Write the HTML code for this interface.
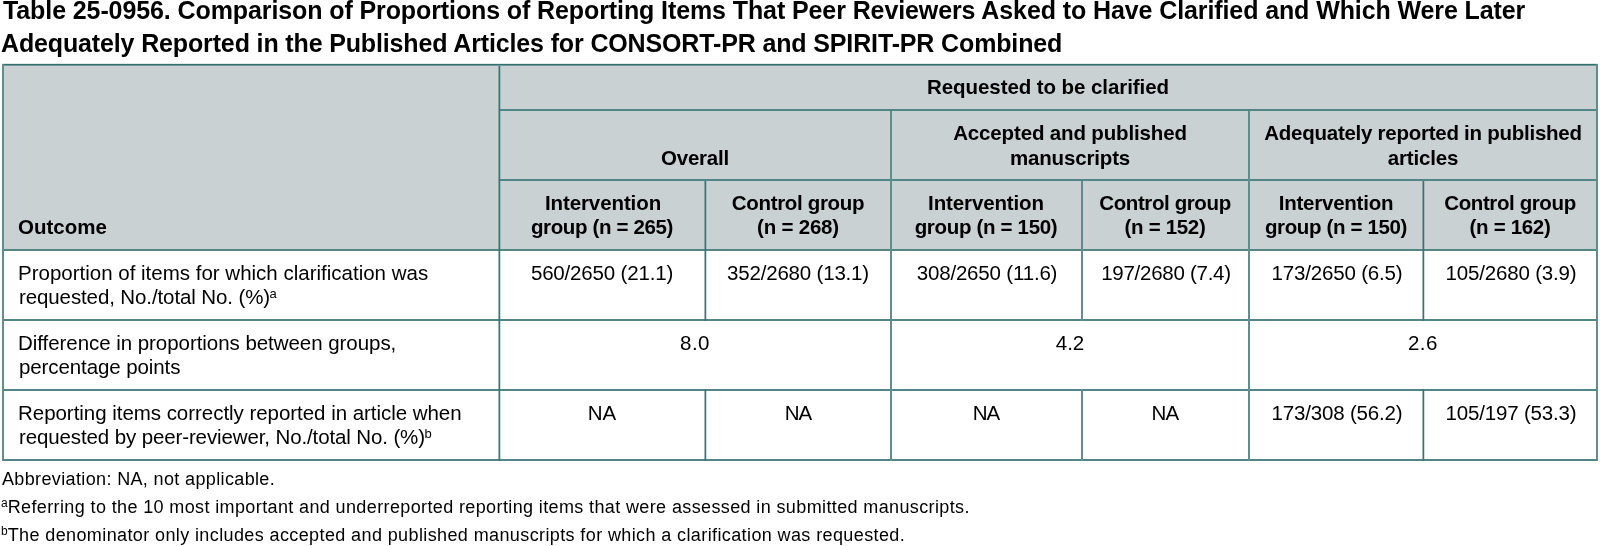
<!DOCTYPE html>
<html><head><meta charset="utf-8"><title>Table 25-0956</title>
<style>
html,body{margin:0;padding:0;background:#fff;}
body{width:1600px;height:546px;position:relative;overflow:hidden;font-family:"Liberation Sans",sans-serif;color:#000;}
.t{position:absolute;white-space:nowrap;will-change:transform;}
.l{position:absolute;}
</style></head><body>
<div class="l" style="left:2px;top:64px;width:1596px;height:187px;background:#c9d1d3"></div>
<div class="l" style="left:2px;top:63px;width:1596px;height:1px;background:rgba(54,113,113,0.15)"></div>
<div class="l" style="left:2px;top:64px;width:1596px;height:1px;background:rgb(54,113,113)"></div>
<div class="l" style="left:2px;top:65px;width:1596px;height:1px;background:rgba(54,113,113,0.6)"></div>
<div class="l" style="left:499px;top:109px;width:1099px;height:2px;background:rgb(82,134,134)"></div>
<div class="l" style="left:499px;top:179px;width:1099px;height:2px;background:rgb(82,134,134)"></div>
<div class="l" style="left:2px;top:249px;width:1596px;height:2px;background:rgb(82,134,134)"></div>
<div class="l" style="left:2px;top:319px;width:1596px;height:2px;background:rgb(82,134,134)"></div>
<div class="l" style="left:2px;top:389px;width:1596px;height:2px;background:rgb(82,134,134)"></div>
<div class="l" style="left:2px;top:459px;width:1596px;height:2px;background:rgb(82,134,134)"></div>
<div class="l" style="left:2px;top:64px;width:2px;height:397px;background:rgb(94,142,142)"></div>
<div class="l" style="left:1596px;top:64px;width:2px;height:397px;background:rgb(94,142,142)"></div>
<div class="l" style="left:498px;top:66px;width:1px;height:395px;background:rgba(58,116,116,0.5)"></div>
<div class="l" style="left:499px;top:66px;width:1px;height:395px;background:rgb(58,116,116)"></div>
<div class="l" style="left:500px;top:66px;width:1px;height:395px;background:rgba(58,116,116,0.25)"></div>
<div class="l" style="left:890px;top:111px;width:2px;height:350px;background:rgb(94,142,142)"></div>
<div class="l" style="left:1248px;top:111px;width:2px;height:350px;background:rgb(94,142,142)"></div>
<div class="l" style="left:1081px;top:181px;width:2px;height:140px;background:rgb(94,142,142)"></div>
<div class="l" style="left:1081px;top:389px;width:2px;height:72px;background:rgb(94,142,142)"></div>
<div class="l" style="left:704px;top:181px;width:1px;height:140px;background:rgba(58,116,116,0.5)"></div>
<div class="l" style="left:705px;top:181px;width:1px;height:140px;background:rgb(58,116,116)"></div>
<div class="l" style="left:706px;top:181px;width:1px;height:140px;background:rgba(58,116,116,0.25)"></div>
<div class="l" style="left:704px;top:389px;width:1px;height:72px;background:rgba(58,116,116,0.5)"></div>
<div class="l" style="left:705px;top:389px;width:1px;height:72px;background:rgb(58,116,116)"></div>
<div class="l" style="left:706px;top:389px;width:1px;height:72px;background:rgba(58,116,116,0.25)"></div>
<div class="l" style="left:1422px;top:181px;width:1px;height:140px;background:rgba(58,116,116,0.5)"></div>
<div class="l" style="left:1423px;top:181px;width:1px;height:140px;background:rgb(58,116,116)"></div>
<div class="l" style="left:1424px;top:181px;width:1px;height:140px;background:rgba(58,116,116,0.25)"></div>
<div class="l" style="left:1422px;top:389px;width:1px;height:72px;background:rgba(58,116,116,0.5)"></div>
<div class="l" style="left:1423px;top:389px;width:1px;height:72px;background:rgb(58,116,116)"></div>
<div class="l" style="left:1424px;top:389px;width:1px;height:72px;background:rgba(58,116,116,0.25)"></div>
<div class="t" style="top:-2px;font-size:25px;line-height:25px;font-weight:700;letter-spacing:-0.1px;left:3.0px;">Table 25-0956. Comparison of Proportions of Reporting Items That Peer Reviewers Asked to Have Clarified and Which Were Later</div>
<div class="t" style="top:31px;font-size:25px;line-height:25px;font-weight:700;letter-spacing:-0.14px;left:0.7px;">Adequately Reported in the Published Articles for CONSORT-PR and SPIRIT-PR Combined</div>
<div class="t" style="top:77px;font-size:20.5px;line-height:20.5px;font-weight:700;letter-spacing:-0.075px;left:848.00px;width:400px;text-align:center;">Requested to be clarified</div>
<div class="t" style="top:148px;font-size:20.5px;line-height:20.5px;font-weight:700;letter-spacing:-0.217px;left:495.00px;width:400px;text-align:center;">Overall</div>
<div class="t" style="top:123px;font-size:20.5px;line-height:20.5px;font-weight:700;letter-spacing:-0.152px;left:869.50px;width:400px;text-align:center;">Accepted and published</div>
<div class="t" style="top:148px;font-size:20.5px;line-height:20.5px;font-weight:700;letter-spacing:-0.15px;left:869.50px;width:400px;text-align:center;">manuscripts</div>
<div class="t" style="top:123px;font-size:20.5px;line-height:20.5px;font-weight:700;letter-spacing:-0.261px;left:1223.00px;width:400px;text-align:center;">Adequately reported in published</div>
<div class="t" style="top:148px;font-size:20.5px;line-height:20.5px;font-weight:700;letter-spacing:-0.143px;left:1222.70px;width:400px;text-align:center;">articles</div>
<div class="t" style="top:217px;font-size:20.5px;line-height:20.5px;font-weight:700;letter-spacing:0.0px;left:17.5px;">Outcome</div>
<div class="t" style="top:193px;font-size:20.5px;line-height:20.5px;font-weight:700;letter-spacing:-0.1px;left:402.70px;width:400px;text-align:center;">Intervention</div>
<div class="t" style="top:217px;font-size:20.5px;line-height:20.5px;font-weight:700;letter-spacing:-0.357px;left:401.80px;width:400px;text-align:center;">group (n = 265)</div>
<div class="t" style="top:193px;font-size:20.5px;line-height:20.5px;font-weight:700;letter-spacing:-0.333px;left:598.00px;width:400px;text-align:center;">Control group</div>
<div class="t" style="top:217px;font-size:20.5px;line-height:20.5px;font-weight:700;letter-spacing:-0.213px;left:598.00px;width:400px;text-align:center;">(n = 268)</div>
<div class="t" style="top:193px;font-size:20.5px;line-height:20.5px;font-weight:700;letter-spacing:-0.127px;left:786.00px;width:400px;text-align:center;">Intervention</div>
<div class="t" style="top:217px;font-size:20.5px;line-height:20.5px;font-weight:700;letter-spacing:-0.32px;left:786.00px;width:400px;text-align:center;">group (n = 150)</div>
<div class="t" style="top:193px;font-size:20.5px;line-height:20.5px;font-weight:700;letter-spacing:-0.392px;left:965.00px;width:400px;text-align:center;">Control group</div>
<div class="t" style="top:217px;font-size:20.5px;line-height:20.5px;font-weight:700;letter-spacing:-0.312px;left:965.00px;width:400px;text-align:center;">(n = 152)</div>
<div class="t" style="top:193px;font-size:20.5px;line-height:20.5px;font-weight:700;letter-spacing:-0.229px;left:1135.80px;width:400px;text-align:center;">Intervention</div>
<div class="t" style="top:217px;font-size:20.5px;line-height:20.5px;font-weight:700;letter-spacing:-0.357px;left:1136.00px;width:400px;text-align:center;">group (n = 150)</div>
<div class="t" style="top:193px;font-size:20.5px;line-height:20.5px;font-weight:700;letter-spacing:-0.392px;left:1309.60px;width:400px;text-align:center;">Control group</div>
<div class="t" style="top:217px;font-size:20.5px;line-height:20.5px;font-weight:700;letter-spacing:-0.312px;left:1310.00px;width:400px;text-align:center;">(n = 162)</div>
<div class="t" style="top:263px;font-size:20.5px;line-height:20.5px;font-weight:400;letter-spacing:0.0px;left:17.5px;">Proportion of items for which clarification was</div>
<div class="t" style="top:287px;font-size:20.5px;line-height:20.5px;font-weight:400;letter-spacing:-0.111px;left:18.5px;">requested, No./total No. (%)<span style="font-size:13px;position:relative;top:-6px;letter-spacing:0;margin-left:-0.5px">a</span></div>
<div class="t" style="top:263px;font-size:20.5px;line-height:20.5px;font-weight:400;letter-spacing:-0.171px;left:402.00px;width:400px;text-align:center;">560/2650 (21.1)</div>
<div class="t" style="top:263px;font-size:20.5px;line-height:20.5px;font-weight:400;letter-spacing:-0.186px;left:598.40px;width:400px;text-align:center;">352/2680 (13.1)</div>
<div class="t" style="top:263px;font-size:20.5px;line-height:20.5px;font-weight:400;letter-spacing:-0.179px;left:786.75px;width:400px;text-align:center;">308/2650 (11.6)</div>
<div class="t" style="top:263px;font-size:20.5px;line-height:20.5px;font-weight:400;letter-spacing:-0.269px;left:966.25px;width:400px;text-align:center;">197/2680 (7.4)</div>
<div class="t" style="top:263px;font-size:20.5px;line-height:20.5px;font-weight:400;letter-spacing:-0.177px;left:1136.75px;width:400px;text-align:center;">173/2650 (6.5)</div>
<div class="t" style="top:263px;font-size:20.5px;line-height:20.5px;font-weight:400;letter-spacing:-0.177px;left:1310.65px;width:400px;text-align:center;">105/2680 (3.9)</div>
<div class="t" style="top:333px;font-size:20.5px;line-height:20.5px;font-weight:400;letter-spacing:-0.049px;left:17.5px;">Difference in proportions between groups,</div>
<div class="t" style="top:357px;font-size:20.5px;line-height:20.5px;font-weight:400;letter-spacing:-0.1px;left:18.5px;">percentage points</div>
<div class="t" style="top:333px;font-size:20.5px;line-height:20.5px;font-weight:400;letter-spacing:0.5px;left:495.00px;width:400px;text-align:center;">8.0</div>
<div class="t" style="top:333px;font-size:20.5px;line-height:20.5px;font-weight:400;letter-spacing:0.0px;left:869.50px;width:400px;text-align:center;">4.2</div>
<div class="t" style="top:333px;font-size:20.5px;line-height:20.5px;font-weight:400;letter-spacing:0.55px;left:1223.00px;width:400px;text-align:center;">2.6</div>
<div class="t" style="top:403px;font-size:20.5px;line-height:20.5px;font-weight:400;letter-spacing:-0.038px;left:17.5px;">Reporting items correctly reported in article when</div>
<div class="t" style="top:427px;font-size:20.5px;line-height:20.5px;font-weight:400;letter-spacing:-0.12px;left:18.5px;">requested by peer-reviewer, No./total No. (%)<span style="font-size:13px;position:relative;top:-6px;letter-spacing:0;margin-left:-0.5px">b</span></div>
<div class="t" style="top:403px;font-size:20.5px;line-height:20.5px;font-weight:400;letter-spacing:0.0px;left:401.70px;width:400px;text-align:center;">NA</div>
<div class="t" style="top:403px;font-size:20.5px;line-height:20.5px;font-weight:400;letter-spacing:-0.9px;left:597.80px;width:400px;text-align:center;">NA</div>
<div class="t" style="top:403px;font-size:20.5px;line-height:20.5px;font-weight:400;letter-spacing:-0.9px;left:786.00px;width:400px;text-align:center;">NA</div>
<div class="t" style="top:403px;font-size:20.5px;line-height:20.5px;font-weight:400;letter-spacing:-0.8px;left:965.40px;width:400px;text-align:center;">NA</div>
<div class="t" style="top:403px;font-size:20.5px;line-height:20.5px;font-weight:400;letter-spacing:-0.177px;left:1136.75px;width:400px;text-align:center;">173/308 (56.2)</div>
<div class="t" style="top:403px;font-size:20.5px;line-height:20.5px;font-weight:400;letter-spacing:-0.177px;left:1310.65px;width:400px;text-align:center;">105/197 (53.3)</div>
<div class="t" style="top:470px;font-size:18px;line-height:18px;font-weight:400;letter-spacing:0.362px;left:2.0px;">Abbreviation: NA, not applicable.</div>
<div class="t" style="top:498px;font-size:18px;line-height:18px;font-weight:400;letter-spacing:0.378px;left:1.3px;"><span style="font-size:12px;position:relative;top:-6px;letter-spacing:0">a</span>Referring to the 10 most important and underreported reporting items that were assessed in submitted manuscripts.</div>
<div class="t" style="top:526px;font-size:18px;line-height:18px;font-weight:400;letter-spacing:0.39px;left:1.3px;"><span style="font-size:12px;position:relative;top:-6px;letter-spacing:0">b</span>The denominator only includes accepted and published manuscripts for which a clarification was requested.</div>
</body></html>
